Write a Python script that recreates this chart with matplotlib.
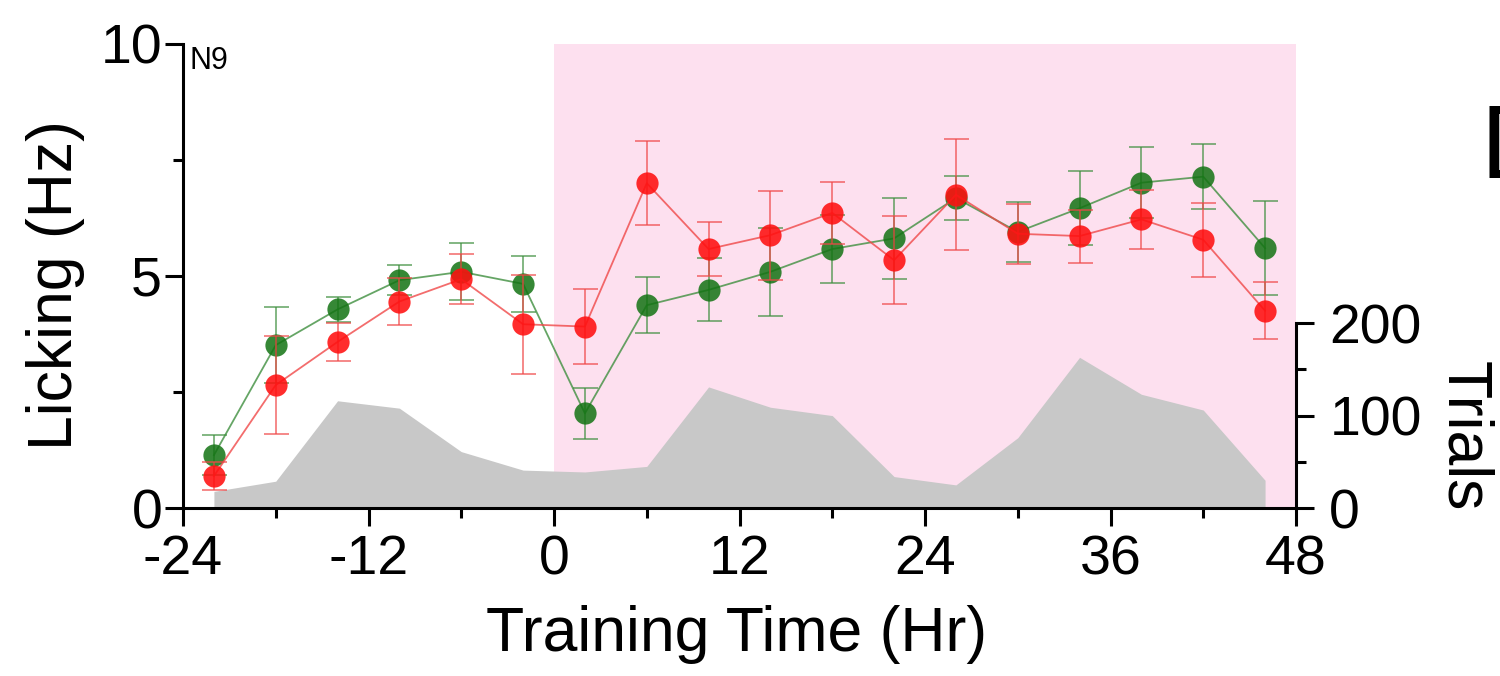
import matplotlib
matplotlib.use("Agg")
from matplotlib import pyplot as plt
from matplotlib.ticker import MultipleLocator, FixedLocator

plt.rcParams['font.family'] = ['Liberation Sans', 'DejaVu Sans']
plt.rcParams['axes.unicode_minus'] = False

# training time bins (hr)
hours = [-22, -18, -14, -10, -6, -2, 2, 6, 10, 14, 18, 22, 26, 30, 34, 38, 42, 46]

# licking rate, green group
green_hz = [1.14, 3.51, 4.28, 4.91, 5.09, 4.83, 2.04, 4.37, 4.70, 5.09, 5.58, 5.81,
            6.68, 5.95, 6.46, 7.01, 7.14, 5.60]
green_err = [0.43, 0.82, 0.27, 0.33, 0.61, 0.60, 0.55, 0.60, 0.68, 0.95, 0.74, 0.88,
             0.47, 0.65, 0.80, 0.77, 0.70, 1.02]

# licking rate, red group
red_hz = [0.69, 2.65, 3.58, 4.45, 4.93, 3.96, 3.91, 7.00, 5.58, 5.88, 6.36, 5.34,
          6.75, 5.91, 5.86, 6.22, 5.78, 4.25]
red_err = [0.30, 1.06, 0.41, 0.51, 0.54, 1.07, 0.80, 0.90, 0.59, 0.96, 0.67, 0.95,
           1.20, 0.65, 0.57, 0.64, 0.80, 0.61]

# number of trials per bin (gray area)
trials = [18, 29, 116, 108, 61, 41, 39, 45, 131, 109, 100, 34, 25, 76, 163, 123, 106, 30]

fig = plt.figure(figsize=(15, 6.76), dpi=100)
ax = fig.add_axes([0.122, 0.2485, 0.742, 0.6865])
ax2 = ax.twinx()

# trials axis sits behind the licking data
ax2.set_zorder(0)
ax.set_zorder(1)
ax.patch.set_visible(False)

ax2.axvspan(0, 48, color='#fde0ef', lw=0, zorder=0)
ax2.fill_between(hours, trials, 0, color='#c8c8c8', lw=0, zorder=1)
ax2.set_ylim(0, 502)
ax2.set_yticks([0, 100, 200])
ax2.yaxis.set_minor_locator(FixedLocator([50, 150]))
ax2.set_ylabel('Trials', fontsize=45, rotation=270, va='center')
ax2.yaxis.set_label_coords(1.151, 0.154)
for s in ['top', 'left', 'bottom']:
    ax2.spines[s].set_visible(False)
ax2.spines['right'].set_bounds(0, 200)
ax2.spines['right'].set_linewidth(2.2)

# green and red series
ax.errorbar(hours, green_hz, yerr=green_err, fmt='none', ecolor='#3f8f3f',
            elinewidth=1.3, capsize=9, capthick=1.3, alpha=0.7)
ax.plot(hours, green_hz, '-', color='#3f8f3f', lw=1.3, alpha=0.8)
ax.plot(hours, green_hz, 'o', color='#137313', ms=16, mec='none', alpha=0.85)

ax.errorbar(hours, red_hz, yerr=red_err, fmt='none', ecolor='#f04848',
            elinewidth=1.3, capsize=9, capthick=1.3, alpha=0.7)
ax.plot(hours, red_hz, '-', color='#f04848', lw=1.3, alpha=0.8)
ax.plot(hours, red_hz, 'o', color='#ff1010', ms=16, mec='none', alpha=0.88)

ax.set_xlim(-24, 48)
ax.set_ylim(0, 10)
ax.set_xticks([-24, -12, 0, 12, 24, 36, 48])
ax.xaxis.set_minor_locator(MultipleLocator(6))
ax.set_yticks([0, 5, 10])
ax.yaxis.set_minor_locator(MultipleLocator(2.5))
ax.set_xlabel('Training Time (Hr)', fontsize=45)
ax.xaxis.set_label_coords(0.497, -0.21)
ax.set_ylabel('Licking (Hz)', fontsize=45, va='center')
ax.yaxis.set_label_coords(-0.115, 0.48)
ax.spines['top'].set_visible(False)
ax.spines['right'].set_visible(False)
ax.spines['left'].set_linewidth(2.2)
ax.spines['bottom'].set_linewidth(2.2)

for a in (ax, ax2):
    a.tick_params(which='major', length=13, width=2.2, labelsize=40)
    a.tick_params(which='minor', length=7, width=2.2)
ax.tick_params(axis='x', which='major', pad=6)
ax.tick_params(axis='y', which='major', pad=2)
ax2.tick_params(axis='y', which='major', pad=11)

ax.text(-23.6, 9.95, 'N9', fontsize=22, va='top', ha='left')

# panel letter of the next panel, cut by the figure edge
fig.text(0.9867, 0.7367, 'D', fontsize=75, va='baseline', ha='left')

fig.savefig('out.png', dpi=100)
